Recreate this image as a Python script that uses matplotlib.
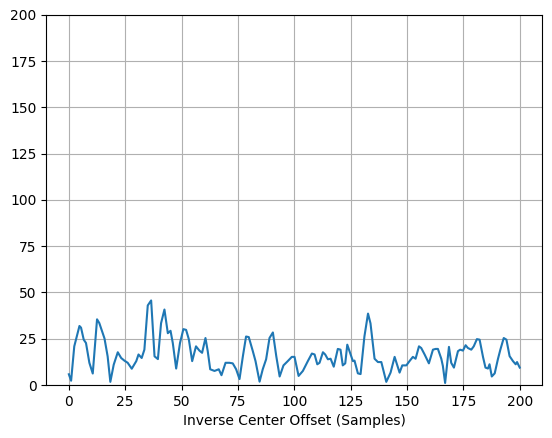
import numpy as np
from matplotlib import pyplot as plt

# offsets (samples) and values
offsets = [
    0, 1, 2.4, 4.7, 5.4, 6.6, 7.6, 9.1, 10.6, 12.5, 13.5, 15.8, 17.2, 18.4, 19.9,
    21.7, 23.2, 24.6, 26.1, 27.9, 29.9, 30.9, 32.3, 33.5, 35, 36.5, 38, 39.5,
    40.9, 42.4, 43.9, 45.1, 46.1, 47.6, 49.3, 50.8, 52, 53.2, 54.7, 56.4, 57.9,
    59.1, 60.6, 61.6, 62.7, 64.6, 66.5, 67.7, 69.5, 71.2, 72.7, 74.2, 75.7,
    77.2, 78.6, 79.8, 81.6, 82.8, 84.6, 86, 87.5, 89, 90.5, 92, 93.5, 95.2,
    97.1, 98.9, 100.1, 101.9, 103.8, 106, 107.8, 109, 110.2, 111.2, 112.7,
    113.7, 114.9, 116.1, 117.5, 119.3, 120.5, 121.5, 122.6, 123.5, 124.5, 126,
    126.7, 128.2, 129.4, 131.1, 132.7, 133.8, 135.6, 137.1, 138.6, 140.8,
    142.7, 144.5, 146.7, 147.9, 149.7, 151.1, 152.6, 153.8, 155.3, 156.3,
    157.8, 159.7, 161.5, 162.7, 163.7, 165.2, 165.9, 166.9, 168.6, 169.6,
    170.8, 172.6, 173.6, 174.8, 176, 177, 178.5, 179.6, 181, 182.2, 183.7,
    184.8, 185.9, 186.6, 187.6, 188.9, 190.3, 191.4, 192.9, 194.1, 195.5, 197,
    198.2, 198.8, 200,
]
values = [
    5.8, 2.3, 20.9, 31.9, 31.0, 24.5, 22.7, 12.0, 6.2, 35.5, 33.5, 25.2, 15.5,
    1.7, 11.0, 17.7, 14.6, 13.2, 12.0, 8.8, 12.9, 16.5, 14.6, 19.1, 43.0,
    45.7, 15.5, 14.0, 33.4, 40.8, 28.0, 29.3, 22.7, 8.9, 22.7, 30.2, 29.8,
    24.8, 12.9, 20.9, 18.6, 17.4, 25.4, 18.3, 8.5, 7.6, 8.5, 5.3, 12.0, 12.0,
    11.7, 8.5, 3.2, 15.6, 26.2, 25.9, 18.3, 12.9, 1.8, 8.5, 13.9, 25.4, 28.4,
    15.6, 4.6, 10.6, 12.9, 15.2, 15.2, 4.9, 7.6, 12.9, 17.0, 16.5, 11.2, 12.0,
    17.7, 16.5, 13.9, 14.2, 9.9, 19.5, 19.1, 10.6, 11.7, 21.8, 18.3, 12.9,
    13.2, 6.3, 5.9, 26.2, 38.6, 33.3, 14.2, 12.4, 12.4, 1.7, 6.7, 15.2, 6.7,
    10.6, 10.6, 12.9, 15.2, 14.2, 20.9, 20.0, 16.5, 11.7, 19.1, 19.5, 19.5,
    14.2, 10.3, 1.1, 20.6, 12.0, 9.4, 18.3, 19.1, 18.6, 21.5, 20.0, 19.1,
    20.9, 24.8, 24.5, 15.2, 9.4, 8.9, 11.2, 4.6, 6.3, 13.9, 19.1, 25.4, 24.5,
    15.6, 12.9, 11.2, 12.4, 9.4,
]

fig = plt.figure(figsize=(5.52, 4.38), dpi=100)
ax = fig.add_axes([0.0839, 0.121, 0.8985, 0.8448])
ax.plot(np.array(offsets), np.array(values), color='tab:blue')
ax.set_ylim(0, 200)
ax.set_xlim(-10, 210)
ax.set_xlabel('Inverse Center Offset (Samples)')
ax.grid()
fig.savefig('out.png', dpi=100)
